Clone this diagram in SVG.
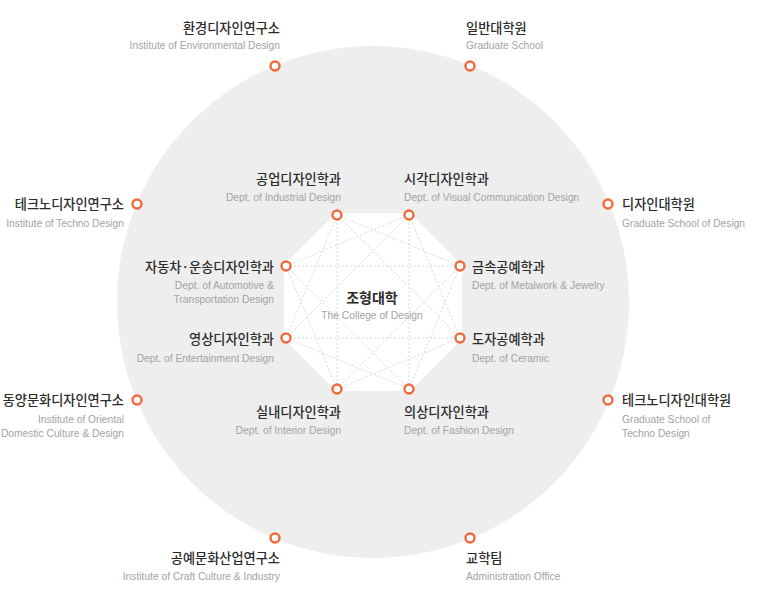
<svg xmlns="http://www.w3.org/2000/svg" width="776" height="600" viewBox="0 0 776 600">
<style>
.ko{font-family:"Noto Sans CJK KR","Noto Sans",sans-serif;font-size:13.2px;font-weight:500;fill:#2b2b2b}
.en{font-family:"Liberation Sans","Noto Sans",sans-serif;font-size:10.25px;fill:#a3a3a3}
.r{text-anchor:end}
.m{text-anchor:middle}
.nd{fill:#fff;stroke:#f0693a;stroke-width:2.4}
.ln{stroke:#cfcfcf;stroke-width:0.8;stroke-dasharray:2 2;fill:none}
</style>
<rect width="776" height="600" fill="#fff"/>
<circle cx="373" cy="302" r="256" fill="#eeeeee"/>
<polygon points="336,213 410,213 462,265 462,339 410,391 336,391 284,339 284,265" fill="#fff"/>
<g id="connectors" class="ln">
<line x1="337" y1="215" x2="460" y2="266"/>
<line x1="409" y1="215" x2="460" y2="338"/>
<line x1="460" y1="266" x2="409" y2="389"/>
<line x1="460" y1="338" x2="337" y2="389"/>
<line x1="409" y1="389" x2="286" y2="338"/>
<line x1="337" y1="389" x2="286" y2="266"/>
<line x1="286" y1="338" x2="337" y2="215"/>
<line x1="286" y1="266" x2="409" y2="215"/>
<line x1="337" y1="215" x2="460" y2="338"/>
<line x1="409" y1="215" x2="409" y2="389"/>
<line x1="460" y1="266" x2="337" y2="389"/>
<line x1="460" y1="338" x2="286" y2="338"/>
<line x1="409" y1="389" x2="286" y2="266"/>
<line x1="337" y1="389" x2="337" y2="215"/>
<line x1="286" y1="338" x2="409" y2="215"/>
<line x1="286" y1="266" x2="460" y2="266"/>
</g>
<g id="center">
<text class="ko m" x="372" y="303" style="font-weight:700;font-size:14px">조형대학</text>
<text class="en m" x="372" y="319">The College of Design</text>
</g>
<g id="n-industrial">
<circle class="nd" cx="337" cy="215" r="4.5"/>
<text class="ko r" x="341" y="184">공업디자인학과</text>
<text class="en r" x="341" y="201">Dept. of Industrial Design</text>
</g>
<g id="n-visual">
<circle class="nd" cx="409" cy="215" r="4.5"/>
<text class="ko" x="404" y="184">시각디자인학과</text>
<text class="en" x="404" y="201">Dept. of Visual Communication Design</text>
</g>
<g id="n-auto">
<circle class="nd" cx="286" cy="266" r="4.5"/>
<text class="ko r" x="274" y="272">자동차·운송디자인학과</text>
<text class="en r" x="274" y="289">Dept. of Automotive &amp;</text>
<text class="en r" x="274" y="303">Transportation Design</text>
</g>
<g id="n-metal">
<circle class="nd" cx="460" cy="266" r="4.5"/>
<text class="ko" x="472" y="272">금속공예학과</text>
<text class="en" x="472" y="289">Dept. of Metalwork &amp; Jewelry</text>
</g>
<g id="n-ent">
<circle class="nd" cx="286" cy="338" r="4.5"/>
<text class="ko r" x="274" y="344">영상디자인학과</text>
<text class="en r" x="274" y="362">Dept. of Entertainment Design</text>
</g>
<g id="n-ceramic">
<circle class="nd" cx="460" cy="338" r="4.5"/>
<text class="ko" x="472" y="344">도자공예학과</text>
<text class="en" x="472" y="362">Dept. of Ceramic</text>
</g>
<g id="n-interior">
<circle class="nd" cx="337" cy="389" r="4.5"/>
<text class="ko r" x="341" y="417">실내디자인학과</text>
<text class="en r" x="341" y="434">Dept. of Interior Design</text>
</g>
<g id="n-fashion">
<circle class="nd" cx="409" cy="389" r="4.5"/>
<text class="ko" x="404" y="417">의상디자인학과</text>
<text class="en" x="404" y="434">Dept. of Fashion Design</text>
</g>
<g id="o-env">
<circle class="nd" cx="275" cy="66" r="4.5"/>
<text class="ko r" x="280" y="33">환경디자인연구소</text>
<text class="en r" x="280" y="49">Institute of Environmental Design</text>
</g>
<g id="o-grad">
<circle class="nd" cx="470" cy="66" r="4.5"/>
<text class="ko" x="466" y="33">일반대학원</text>
<text class="en" x="466" y="49">Graduate School</text>
</g>
<g id="o-techno-inst">
<circle class="nd" cx="137" cy="204" r="4.5"/>
<text class="ko r" x="124" y="209">테크노디자인연구소</text>
<text class="en r" x="124" y="227">Institute of Techno Design</text>
</g>
<g id="o-design-grad">
<circle class="nd" cx="608" cy="204" r="4.5"/>
<text class="ko" x="622" y="209">디자인대학원</text>
<text class="en" x="622" y="227">Graduate School of Design</text>
</g>
<g id="o-oriental">
<circle class="nd" cx="137" cy="400" r="4.5"/>
<text class="ko r" x="124" y="405">동양문화디자인연구소</text>
<text class="en r" x="124" y="423">Institute of Oriental</text>
<text class="en r" x="124" y="437">Domestic Culture &amp; Design</text>
</g>
<g id="o-techno-grad">
<circle class="nd" cx="608" cy="400" r="4.5"/>
<text class="ko" x="622" y="405">테크노디자인대학원</text>
<text class="en" x="622" y="423">Graduate School of</text>
<text class="en" x="622" y="437">Techno Design</text>
</g>
<g id="o-craft">
<circle class="nd" cx="275" cy="538" r="4.5"/>
<text class="ko r" x="280" y="563">공예문화산업연구소</text>
<text class="en r" x="280" y="580">Institute of Craft Culture &amp; Industry</text>
</g>
<g id="o-admin">
<circle class="nd" cx="470" cy="538" r="4.5"/>
<text class="ko" x="466" y="563">교학팀</text>
<text class="en" x="466" y="580">Administration Office</text>
</g>
</svg>
